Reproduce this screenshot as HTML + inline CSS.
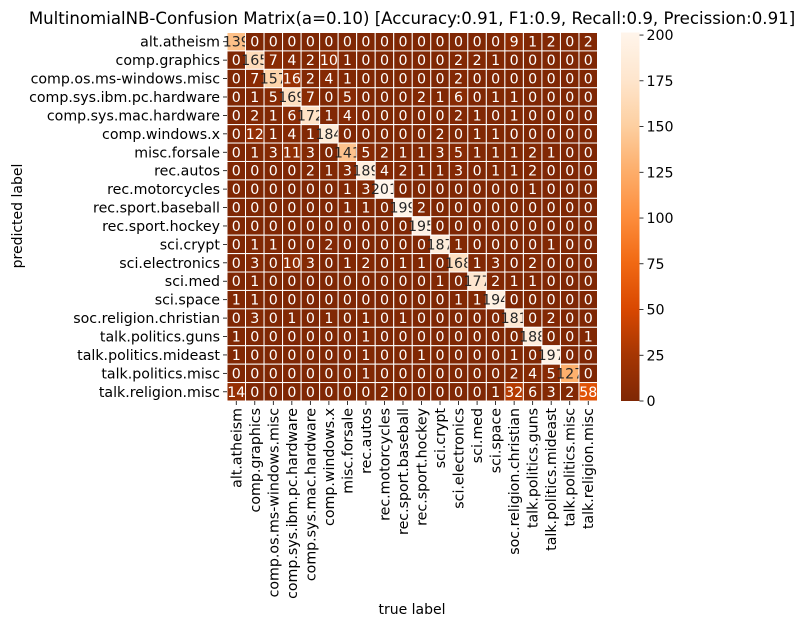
<!DOCTYPE html>
<html><head><meta charset="utf-8"><style>
body{margin:0;background:#fff;}
svg text{font-family:"DejaVu Sans","Liberation Sans",sans-serif;}
</style></head><body>
<svg id="c" width="804" height="628" xmlns="http://www.w3.org/2000/svg">
<defs><linearGradient id="cb" x1="0" y1="1" x2="0" y2="0">
<stop offset="0" stop-color="#7f2704"/><stop offset="0.125" stop-color="#a63603"/><stop offset="0.25" stop-color="#d94801"/><stop offset="0.375" stop-color="#f16913"/><stop offset="0.5" stop-color="#fd8d3c"/><stop offset="0.625" stop-color="#fdae6b"/><stop offset="0.75" stop-color="#fdd0a2"/><stop offset="0.875" stop-color="#fee6ce"/><stop offset="1" stop-color="#fff5eb"/>
</linearGradient></defs>
<text x="412" y="24" font-size="16.6" text-anchor="middle" fill="#000">MultinomialNB-Confusion Matrix(a=0.10) [Accuracy:0.91, F1:0.9, Recall:0.9, Precission:0.91]</text>
<text x="412" y="614" font-size="14" text-anchor="middle">true label</text>
<text transform="translate(22,216) rotate(-90)" font-size="14" text-anchor="middle">predicted label</text>
<g id="cells"></g><g id="axes"></g><g id="cbar"></g>
</svg>
<script>
const labels=["alt.atheism","comp.graphics","comp.os.ms-windows.misc","comp.sys.ibm.pc.hardware","comp.sys.mac.hardware","comp.windows.x","misc.forsale","rec.autos","rec.motorcycles","rec.sport.baseball","rec.sport.hockey","sci.crypt","sci.electronics","sci.med","sci.space","soc.religion.christian","talk.politics.guns","talk.politics.mideast","talk.politics.misc","talk.religion.misc"];
const matrix=[
[139,0,0,0,0,0,0,0,0,0,0,0,0,0,0,9,1,2,0,2],
[0,165,7,4,2,10,1,0,0,0,0,0,2,2,1,0,0,0,0,0],
[0,7,157,16,2,4,1,0,0,0,0,0,2,0,0,0,0,0,0,0],
[0,1,5,169,7,0,5,0,0,0,2,1,6,0,1,1,0,0,0,0],
[0,2,1,6,172,1,4,0,0,0,0,0,2,1,0,1,0,0,0,0],
[0,12,1,4,1,184,0,0,0,0,0,2,0,1,1,0,0,0,0,0],
[0,1,3,11,3,0,141,5,2,1,1,3,5,1,1,1,2,1,0,0],
[0,0,0,0,2,1,3,189,4,2,1,1,3,0,1,1,2,0,0,0],
[0,0,0,0,0,0,1,3,201,0,0,0,0,0,0,0,1,0,0,0],
[0,0,0,0,0,0,1,1,0,199,2,0,0,0,0,0,0,0,0,0],
[0,0,0,0,0,0,0,0,0,0,195,0,0,0,0,0,0,0,0,0],
[0,1,1,0,0,2,0,0,0,0,0,187,1,0,0,0,0,1,0,0],
[0,3,0,10,3,0,1,2,0,1,1,0,168,1,3,0,2,0,0,0],
[0,1,0,0,0,0,0,0,0,0,0,1,0,177,2,1,1,0,0,0],
[1,1,0,0,0,0,0,0,0,0,0,0,1,1,194,0,0,0,0,0],
[0,3,0,1,0,1,0,1,0,1,0,0,0,0,0,181,0,2,0,0],
[1,0,0,0,0,0,0,1,0,0,0,0,0,0,0,0,188,0,0,1],
[1,0,0,0,0,0,0,1,0,0,1,0,0,0,0,1,0,197,0,0],
[0,0,0,0,0,0,0,1,0,0,0,0,0,0,0,2,4,5,127,0],
[14,0,0,0,0,0,0,0,2,0,0,0,0,0,1,32,6,3,2,58]];
const cbTicks=[0,25,50,75,100,125,150,175,200];
const NS="http://www.w3.org/2000/svg";
const X0=227,X1=597.5,Y0=32.5,Y1=401,n=labels.length;
const cw=(X1-X0)/n,ch=(Y1-Y0)/n;
const vmax=201.4;
const FS=14.2;
const stops=["#7f2704","#a63603","#d94801","#f16913","#fd8d3c","#fdae6b","#fdd0a2","#fee6ce","#fff5eb"].map(h=>[1,3,5].map(i=>parseInt(h.substr(i,2),16)));
function color(v){let t=Math.max(0,Math.min(1,v/vmax))*8;let i=Math.min(7,Math.floor(t)),f=t-i;const a=stops[i],b=stops[i+1];return [0,1,2].map(k=>Math.round(a[k]+(b[k]-a[k])*f));}
function xs(j){return X0+j*cw;} function ys(i){return Y0+i*ch;}
function mk(tag,at,parent){const e=document.createElementNS(NS,tag);for(const k in at)e.setAttribute(k,at[k]);parent.appendChild(e);return e;}
const cells=document.getElementById('cells'),axes=document.getElementById('axes'),cbar=document.getElementById('cbar');
for(let i=0;i<n;i++)for(let j=0;j<n;j++){
 const v=matrix[i][j],c=color(v);
 const r=mk('rect',{x:xs(j),y:ys(i),width:cw,height:ch,fill:`rgb(${c})`,stroke:'#fff','stroke-width':1},cells);
 
 
 const lum=(0.299*c[0]+0.587*c[1]+0.114*c[2])/255;
 const t=mk('text',{x:xs(j)+cw/2,y:ys(i)+ch/2+5,'font-size':FS,'text-anchor':'middle',fill:lum>0.5?'#262626':'#fff'},cells);
 t.textContent=v;
 
 
}
labels.forEach((l,i)=>{
 const y=ys(i)+ch/2;
 mk('line',{x1:X0-4,x2:X0,y1:y,y2:y,stroke:'#000','stroke-width':0.8},axes);
 const t=mk('text',{x:X0-7,y:y+5,'font-size':FS,'text-anchor':'end'},axes);
 t.textContent=l;
 
 
 const x=xs(i)+cw/2;
 mk('line',{x1:x,x2:x,y1:Y1,y2:Y1+4,stroke:'#000','stroke-width':0.8},axes);
 const u=mk('text',{transform:`translate(${x+5},${Y1+7}) rotate(-90)`,'font-size':FS,'text-anchor':'end'},axes);
 u.textContent=l;
 
 
});
const CX=621,CW=18.5;
const cb=mk('rect',{x:CX,y:Y0,width:CW,height:Y1-Y0,fill:'url(#cb)'},cbar);


cbTicks.forEach(v=>{
 const y=Y1-(v/vmax)*(Y1-Y0);
 mk('line',{x1:CX+CW,x2:CX+CW+4,y1:y,y2:y,stroke:'#000','stroke-width':0.8},cbar);
 const t=mk('text',{x:CX+CW+7,y:y+5,'font-size':FS},cbar);
 t.textContent=v;
 
 
});
</script>
</body></html>
